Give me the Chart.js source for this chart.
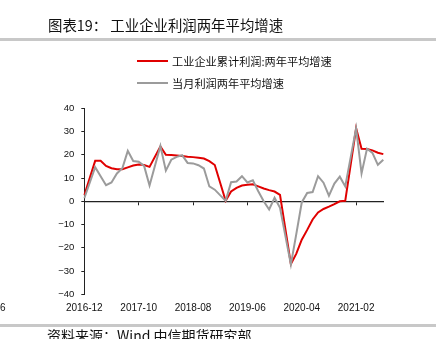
<!DOCTYPE html>
<html>
<head>
<meta charset="utf-8">
<script src="https://cdn.jsdelivr.net/npm/chart.js@4.4.1/dist/chart.umd.min.js"></script>
<style>
html,body{margin:0;padding:0;background:#fff;}
body{width:436px;height:339px;position:relative;overflow:hidden;font-family:"Noto Sans CJK SC","Noto Sans",sans-serif;}
#title{position:absolute;left:48px;top:16px;font-size:14.4px;line-height:18px;color:#111;white-space:nowrap;}
.rule{position:absolute;left:0;width:436px;height:3px;background:#c8c8c8;}
#wrap{position:absolute;left:0;top:0;width:436px;height:339px;}
.legline{position:absolute;left:137px;width:31px;height:2px;}
.legtext{position:absolute;left:172px;font-size:11.2px;line-height:14px;color:#111;white-space:nowrap;}
#source{position:absolute;left:47px;top:326px;font-size:14px;line-height:18px;color:#111;white-space:nowrap;}
#frag{position:absolute;left:0px;top:302px;font-family:"Liberation Sans",Arial,sans-serif;font-size:10px;line-height:12px;color:#111;}
</style>
</head>
<body>
<div id="wrap"><canvas id="c" width="436" height="339"></canvas></div>
<div id="title">图表19： 工业企业利润两年平均增速</div>
<div class="rule" style="top:38px;"></div>
<div class="legline" style="top:60px;background:#e00000;"></div>
<div class="legtext" style="top:54px;">工业企业累计利润:两年平均增速</div>
<div class="legline" style="top:81.5px;background:#9b9b9b;"></div>
<div class="legtext" style="top:75.5px;">当月利润两年平均增速</div>
<div class="rule" style="top:324px;"></div>
<div id="source">资料来源：Wind 中信期货研究部</div>
<div id="frag">6</div>
<script>
const categories = [
  "2016-12",
  "2017-01","2017-02","2017-03","2017-04","2017-05","2017-06","2017-07","2017-08","2017-09","2017-10","2017-11","2017-12",
  "2018-01","2018-02","2018-03","2018-04","2018-05","2018-06","2018-07","2018-08","2018-09","2018-10","2018-11","2018-12",
  "2019-01","2019-02","2019-03","2019-04","2019-05","2019-06","2019-07","2019-08","2019-09","2019-10","2019-11","2019-12",
  "2020-01","2020-02","2020-03","2020-04","2020-05","2020-06","2020-07","2020-08","2020-09","2020-10","2020-11","2020-12",
  "2021-01","2021-02","2021-03","2021-04","2021-05","2021-06","2021-07"
];
const tickLabels = ["2016-12","2017-10","2018-08","2019-06","2020-04","2021-02"];

const seriesNames = ["工业企业累计利润:两年平均增速", "当月利润两年平均增速"];

const cumulativeProfit = [
  2.6,
  null, 17.4, 17.4, 15.2, 14.2, 13.8, 13.8, 14.6, 15.4, 15.8, 15.6, 14.8,
  null, 23.6, 20.0, 19.9, 19.7, 19.5, 19.2, 19.0, 18.7, 18.4, 17.3, 15.6,
  null, 0.2, 4.2, 5.8, 6.8, 7.1, 7.3, 6.4, 5.5, 4.8, 4.2, 2.8,
  null, -27.0, -22.5, -16.5, -12.3, -7.8, -4.8, -3.3, -2.3, -1.2, 0.0, 0.2,
  null, 31.4, 22.6, 22.5, 21.9, 20.9, 20.3
];
const monthlyProfit = [
  1.3,
  null, 14.7, 10.8, 6.9, 8.1, 12.0, 14.2, 21.7, 17.3, 17.0, 15.2, 6.8,
  null, 23.8, 13.2, 17.9, 19.1, 19.8, 16.5, 16.3, 15.5, 14.1, 6.4, 5.0,
  null, 0.2, 8.2, 8.5, 10.8, 8.1, 9.0, 4.3, 0.0, -3.5, 1.5, -2.8,
  null, -27.2, -14.0, -0.5, 3.6, 4.0, 10.8, 8.0, 2.4, 7.6, 10.6, 6.4,
  null, 31.4, 12.0, 22.6, 20.8, 15.7, 17.9
];

const RED = "#e00000";
const GRAY = "#9b9b9b";
const AXIS = "#222222";

Chart.defaults.font.family = '"Liberation Sans", Arial, sans-serif';
Chart.defaults.color = "#111";

new Chart(document.getElementById("c"), {
  type: "line",
  data: {
    labels: categories,
    datasets: [
      {
        label: seriesNames[1],
        data: monthlyProfit,
        borderColor: GRAY,
        backgroundColor: GRAY,
        borderWidth: 2,
        pointRadius: 0,
        tension: 0,
        spanGaps: true,
        xAxisID: "x",
        yAxisID: "y"
      },
      {
        label: seriesNames[0],
        data: cumulativeProfit,
        borderColor: RED,
        backgroundColor: RED,
        borderWidth: 2,
        pointRadius: 0,
        tension: 0,
        spanGaps: true,
        xAxisID: "x",
        yAxisID: "y"
      }
    ]
  },
  options: {
    responsive: false,
    devicePixelRatio: 1,
    animation: false,
    layout: { padding: { left: 0, right: 52.7, top: 108.3, bottom: 24.7 } },
    plugins: { legend: { display: false }, tooltip: { enabled: false } },
    scales: {
      x: {
        type: "category",
        position: "bottom",
        offset: false,
        grid: { display: false, drawTicks: false },
        border: { display: false },
        ticks: {
          autoSkip: false,
          maxRotation: 0,
          minRotation: 0,
          padding: 8,
          font: { size: 10 },
          color: "#111",
          callback: function (v, i) {
            const lab = categories[i];
            return tickLabels.includes(lab) ? lab : "";
          }
        },
        afterFit: function (s) { s.height = 20; }
      },
      x2: {
        type: "category",
        position: { y: 0 },
        offset: false,
        grid: {
          display: true,
          drawOnChartArea: false,
          drawTicks: true,
          tickLength: 3,
          tickWidth: 1,
          tickColor: function (ctx) {
            const lab = categories[ctx.index];
            return tickLabels.includes(lab) ? AXIS : "rgba(0,0,0,0)";
          }
        },
        border: { display: true, color: AXIS, width: 1.3 },
        ticks: { display: false, autoSkip: false }
      },
      y: {
        type: "linear",
        position: "left",
        min: -40,
        max: 40,
        grid: {
          display: true,
          drawOnChartArea: false,
          drawTicks: true,
          tickLength: 3,
          tickColor: AXIS
        },
        border: { display: true, color: AXIS, width: 1 },
        ticks: {
          stepSize: 10,
          padding: 7,
          font: { size: 9.5 },
          color: "#111",
          callback: function (v) { return v < 0 ? "\u2212" + Math.abs(v) : String(v); }
        },
        afterFit: function (s) { s.width = 84.3; }
      }
    }
  }
});
</script>
</body>
</html>
